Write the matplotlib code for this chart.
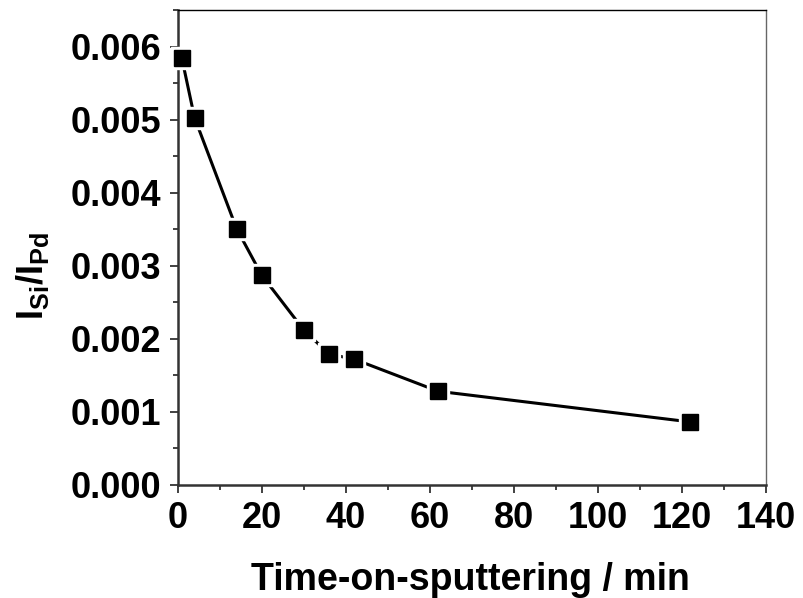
import numpy as np
import matplotlib
matplotlib.use("Agg")
import matplotlib.pyplot as plt
from matplotlib.ticker import MultipleLocator, FormatStrFormatter

plt.rcParams['font.family'] = ['Liberation Sans', 'DejaVu Sans']
plt.rcParams['font.weight'] = 'bold'
plt.rcParams['mathtext.fontset'] = 'custom'
plt.rcParams['mathtext.rm'] = 'Liberation Sans:bold'
plt.rcParams['mathtext.it'] = 'Liberation Sans:bold'
plt.rcParams['mathtext.bf'] = 'Liberation Sans:bold'
plt.rcParams['mathtext.default'] = 'rm'

# data
time_min = [1, 4, 14, 20, 30, 36, 42, 62, 122]
ratio = [0.00584, 0.00503, 0.00351, 0.00287, 0.00212, 0.00179, 0.00172, 0.00128, 0.00086]

fig = plt.figure(figsize=(8.04, 5.98), dpi=100)
ax = fig.add_axes([177.7/804, 1-484.7/598, (766-177.7)/804, (484.7-10.3)/598])

ax.plot(time_min, ratio, color='black', lw=2.2, zorder=2)
ax.plot(time_min, ratio, ls='none', marker='s', ms=16, mfc='white', mec='white', zorder=3, clip_on=False)
ax.plot(time_min, ratio, ls='none', marker='s', ms=12, mfc='black', mec='black', zorder=4, clip_on=False)

ax.set_xlim(0, 140)
ax.set_ylim(0, 0.0065)
ax.xaxis.set_major_locator(MultipleLocator(20))
ax.xaxis.set_minor_locator(MultipleLocator(10))
ax.yaxis.set_major_locator(MultipleLocator(0.001))
ax.yaxis.set_minor_locator(MultipleLocator(0.0005))
ax.yaxis.set_major_formatter(FormatStrFormatter('%.3f'))

ax.tick_params(which='both', direction='out', top=False, right=False, color='#333333', width=1.3)
ax.tick_params(which='major', length=6, labelsize=26, pad=6)
ax.tick_params(which='minor', length=3.3)

for s in ['left', 'bottom']:
    ax.spines[s].set_linewidth(1.8)
    ax.spines[s].set_color('#333333')
ax.spines['top'].set_linewidth(1.0)
ax.spines['top'].set_color('black')
ax.spines['right'].set_linewidth(1.0)
ax.spines['right'].set_color('#666666')

ax.set_xlabel('Time-on-sputtering / min', fontsize=27, fontweight='bold')
ax.xaxis.set_label_coords(0.498, -0.163)
ax.set_ylabel(r'$I_{Si}/I_{Pd}$', fontsize=26)
ax.yaxis.set_label_coords(-0.215, 0.44)

fig.savefig('out.png', dpi=100)
